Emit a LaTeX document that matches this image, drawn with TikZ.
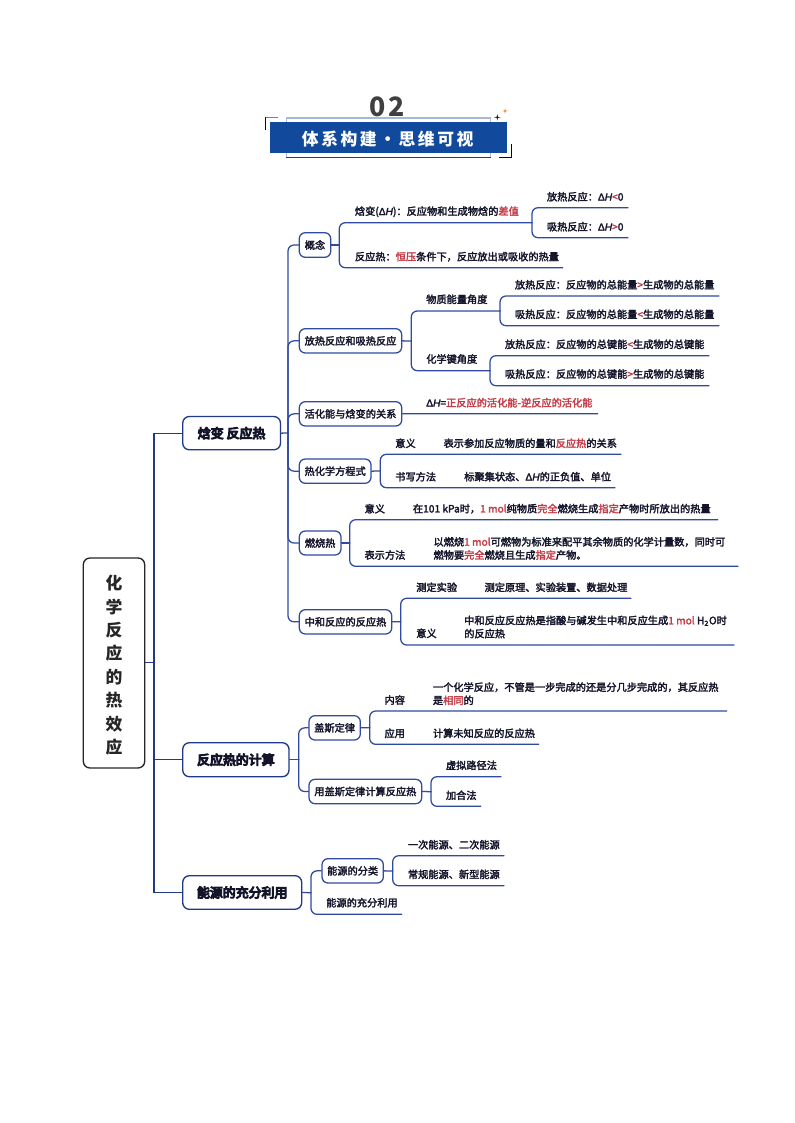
\documentclass[tikz,border=0pt]{standalone}
\usepackage{fontspec}
\setmainfont{Noto Sans CJK SC}
\newfontfamily\medf[FakeBold=2.5]{Noto Sans CJK SC}
\newfontfamily\bigf[FakeBold=8]{Noto Sans CJK SC}
\newfontfamily\latf[FakeBold=2.5]{Liberation Sans}
\usetikzlibrary{calc}
\definecolor{lnk}{HTML}{2F4A9E}
\definecolor{lnkd}{HTML}{1F3A8A}
\definecolor{ink}{HTML}{14142B}
\definecolor{hot}{HTML}{C43C48}
\definecolor{bar}{HTML}{114A9C}
\definecolor{pale}{HTML}{A8B8D8}
\newcommand{\hi}[1]{\textcolor{hot}{#1}}
\newcommand{\dH}{{\latf Δ\itshape H}}
\tikzset{
  x=0.75pt,y=-0.75pt,
  lnka/.style={draw=lnk,line width=0.95pt,line cap=round},
  arm/.style={lnka,rounded corners=4.5pt},
  spine/.style={draw=lnkd,line width=0.9pt},
  boxs/.style={draw=lnk,line width=0.95pt,fill=white,rounded corners=4.5pt,inner sep=0pt,font=\medf\fontsize{7.65}{9}\selectfont,text=ink,anchor=center},
  boxb/.style={draw=lnkd,line width=1pt,fill=white,rounded corners=5pt,inner sep=0pt,font=\bigf\fontsize{9.7}{12}\selectfont,text=ink,anchor=center},
  lab/.style={inner sep=0pt,anchor=west,font=\medf\fontsize{7.65}{9.9}\selectfont,text=ink,align=left},
}
\newcommand{\bx}[7][boxs]{\node[#1,minimum width={(#6-#4)*0.75pt},minimum height={(#7-#5)*0.75pt}] (#2) at ({(#4+#6)/2},{(#5+#7)/2}) {\raisebox{-0.9pt}{#3}};}
\begin{document}
\begin{tikzpicture}
\useasboundingbox (0,0) rectangle (794,1123);
\fill[white] (0,0) rectangle (794,1123);

% --- header ---
\node[inner sep=0pt,text=black!75,font=\fontsize{20}{24}\selectfont\bfseries] (num) at (387.5,106.7) {0\hspace{2pt}2};
\draw[draw=pale,line width=0.8pt,fill=white] (286.3,118) rectangle (490.7,157.3);
\draw[draw=bar!90!black,line width=0.8pt] (286.3,157.3) -- (490.7,157.3);
\draw[draw=black!60!blue,line width=0.7pt] (265.7,130) -- (265.7,117.3);
\draw[draw=pale!70!black,line width=0.7pt] (265.7,117.3) -- (277.7,117.3);
\draw[draw=black!70!blue,line width=0.7pt] (511.7,144.3) -- (511.7,157) -- (499.3,157);
\fill[bar] (270,122.3) rectangle (506.7,153.3);
\node[inner sep=0pt,text=white,font=\fontsize{12.6}{14}\selectfont\bfseries] (ttl) at (387.7,139.5) {体\hspace{1.9pt}系\hspace{1.9pt}构\hspace{1.9pt}建\hspace{1.9pt}·\hspace{1.9pt}思\hspace{1.9pt}维\hspace{1.9pt}可\hspace{1.9pt}视};
\fill[black!85] (497.3,114) -- (497.9,116.7) -- (500.6,117.3) -- (497.9,117.9) -- (497.3,120.6) -- (496.7,117.9) -- (494,117.3) -- (496.7,116.7) -- cycle;
\fill[orange!90!black] (505,108.5) -- (505.5,110.5) -- (507.5,111) -- (505.5,111.5) -- (505,113.5) -- (504.5,111.5) -- (502.5,111) -- (504.5,110.5) -- cycle;

% --- root and main branches ---
\node[draw=black!85,line width=1pt,rounded corners=5pt,fill=white,minimum width={61.4*0.75pt},minimum height={210*0.75pt},inner sep=0pt] (root) at (114,663) {};
\foreach \c [count=\i from 0] in {化,学,反,应,的,热,效,应}
  \node[inner sep=0pt,text=black!85,font=\fontsize{12.6}{14}\selectfont\bfseries] (r\i) at (114,{583.3+23.4*\i}) {\c};

\bx[boxb]{hb}{焓变 反应热}{182.7}{416.5}{280.5}{449.8}
\bx[boxb]{calc}{反应热的计算}{182.7}{742.7}{289}{776.7}
\bx[boxb]{src}{能源的充分利用}{182.7}{875.7}{301.7}{909.3}

\coordinate (j0) at (154,662.7);
\draw[spine] (root.east |- j0) -- (j0);
\draw[spine] (hb.west) -- (j0 |- hb.west) -- (j0 |- src.west) -- (src.west);
\draw[spine] (j0 |- calc.west) -- (calc.west);

% --- level 2 boxes under 焓变 ---
\bx{gn}{概念}{299.3}{232.7}{330.7}{257.3}
\bx{fr}{放热反应和吸热反应}{299.3}{328.7}{401.7}{353}
\bx{hh}{活化能与焓变的关系}{299.3}{401.7}{401.7}{426}
\bx{eq}{热化学方程式}{299.3}{459}{371}{483.3}
\bx{rs}{燃烧热}{299.3}{531}{341}{555}
\bx{zh}{中和反应的反应热}{299.3}{609.7}{391.7}{634}

\coordinate (j1) at (288,433);
\draw[lnka] (hb.east) -- (j1);
\draw[arm] (j1) |- (gn.west);
\draw[arm] (j1) |- (fr.west);
\draw[arm] (j1) |- (hh.west);
\draw[arm] (j1) |- (eq.west);
\draw[arm] (j1) |- (rs.west);
\draw[arm] (j1) |- (zh.west);

% 概念
\coordinate (j2) at (339.3,245);
\coordinate (a1) at (532,222.7);
\coordinate (a2) at (562.7,267.7);
\draw[lnka] (gn.east) -- (j2);
\draw[arm] (j2) |- (a1);
\draw[arm] (j2) |- (a2);
\coordinate (j3) at (532,222.7);
\coordinate (a3) at (628,207.7);
\coordinate (a4) at (628,237.7);
\draw[arm] (j3) |- (a3);
\draw[arm] (j3) |- (a4);
\node[lab] (t1) at (354.7,211.7) {焓变({\latf Δ}{\latf\itshape H})：反应物和生成物焓的\hi{差值}};
\node[lab] (t2) at (354.7,256.7) {反应热：\hi{恒压}条件下，反应放出或吸收的热量};
\node[lab] (t3) at (546.7,196.7) {放热反应：\dH\hi{<}0};
\node[lab] (t4) at (546.7,226.7) {吸热反应：\dH\hi{>}0};

% 放热反应和吸热反应
\coordinate (j4) at (411.3,341);
\coordinate (b1) at (500,311);
\coordinate (b2) at (490,370.7);
\draw[lnka] (fr.east) -- (j4);
\draw[arm] (j4) |- (b1);
\draw[arm] (j4) |- (b2);
\coordinate (b3) at (719,296);
\coordinate (b4) at (719,325.7);
\draw[arm] (b1) |- (b3);
\draw[arm] (b1) |- (b4);
\coordinate (b5) at (709,355.7);
\coordinate (b6) at (709,385.7);
\draw[arm] (b2) |- (b5);
\draw[arm] (b2) |- (b6);
\node[lab] (t5) at (426,299.3) {物质能量角度};
\node[lab] (t6) at (426,359) {化学键角度};
\node[lab] (t7) at (514.7,284.7) {放热反应：反应物的总能量\hi{>}生成物的总能量};
\node[lab] (t8) at (514.7,314.3) {吸热反应：反应物的总能量\hi{<}生成物的总能量};
\node[lab] (t9) at (504.7,344.3) {放热反应：反应物的总键能\hi{<}生成物的总键能};
\node[lab] (t10) at (504.7,374) {吸热反应：反应物的总键能\hi{>}生成物的总键能};

% 活化能
\coordinate (c1) at (597.7,413.7);
\draw[lnka] (hh.east) -- (c1);
\node[lab] (t11) at (426,402.7) {\dH=\hi{正反应的活化能-逆反应的活化能}};

% 热化学方程式
\coordinate (j5) at (380.3,471);
\coordinate (d1) at (621,454.3);
\coordinate (d2) at (615,487.7);
\draw[lnka] (eq.east) -- (j5);
\draw[arm] (j5) |- (d1);
\draw[arm] (j5) |- (d2);
\node[lab] (t12) at (395,443.3) {意义};
\node[lab] (t13) at (443.3,443.3) {表示参加反应物质的量和\hi{反应热}的关系};
\node[lab] (t14) at (395,476.7) {书写方法};
\node[lab] (t15) at (464,476.7) {标聚集状态、\dH{}的正负值、单位};

% 燃烧热
\coordinate (j6) at (349.7,543);
\coordinate (e1) at (717.7,519.7);
\coordinate (e2) at (738,566.3);
\draw[lnka] (rs.east) -- (j6);
\draw[arm] (j6) |- (e1);
\draw[arm] (j6) |- (e2);
\node[lab] (t16) at (364.3,508.7) {意义};
\node[lab] (t17) at (412.7,508.7) {在101 kPa时，\hi{1 mol}纯物质\hi{完全}燃烧生成\hi{指定}产物时所放出的热量};
\node[lab] (t18) at (364.3,555) {表示方法};
\node[lab] (t19) at (433.3,548.4) {以燃烧\hi{1 mol}可燃物为标准来配平其余物质的化学计量数，同时可\\燃物要\hi{完全}燃烧且生成\hi{指定}产物。};

% 中和反应的反应热
\coordinate (j7) at (400.7,621.8);
\coordinate (f1) at (631,598.3);
\coordinate (f2) at (734,645);
\draw[lnka] (zh.east) -- (j7);
\draw[arm] (j7) |- (f1);
\draw[arm] (j7) |- (f2);
\node[lab] (t20) at (416,587.3) {测定实验};
\node[lab] (t21) at (484.3,587.3) {测定原理、实验装置、数据处理};
\node[lab] (t22) at (416,633.3) {意义};
\node[lab] (t23) at (464,627) {中和反应反应热是指酸与碱发生中和反应生成\hi{1 mol} H\textsubscript{2}O时\\的反应热};

% 反应热的计算
\bx{gs}{盖斯定律}{309}{715.7}{360.3}{740}
\bx{yg}{用盖斯定律计算反应热}{309}{779.3}{421.7}{803.7}
\coordinate (j8) at (298.7,759.7);
\draw[lnka] (calc.east) -- (j8);
\draw[arm] (j8) |- (gs.west);
\draw[arm] (j8) |- (yg.west);
\coordinate (j9) at (369.7,727.8);
\coordinate (g1) at (726.7,711);
\coordinate (g2) at (538.7,744.3);
\draw[lnka] (gs.east) -- (j9);
\draw[arm] (j9) |- (g1);
\draw[arm] (j9) |- (g2);
\node[lab] (t24) at (384.3,700) {内容};
\node[lab] (t25) at (432.7,693.7) {一个化学反应，不管是一步完成的还是分几步完成的，其反应热\\是\hi{相同}的};
\node[lab] (t26) at (384.3,733.3) {应用};
\node[lab] (t27) at (432.7,733.3) {计算未知反应的反应热};
\coordinate (j10) at (431,791.7);
\coordinate (h1) at (501,776.7);
\coordinate (h2) at (480.7,806.3);
\draw[lnka] (yg.east) -- (j10);
\draw[arm] (j10) |- (h1);
\draw[arm] (j10) |- (h2);
\node[lab] (t28) at (445.7,765.3) {虚拟路径法};
\node[lab] (t29) at (445.7,795.3) {加合法};

% 能源的充分利用
\bx{fl}{能源的分类}{322}{858.7}{383.3}{883}
\coordinate (j11) at (311,892.7);
\coordinate (i1) at (401.7,914.3);
\draw[lnka] (src.east) -- (j11);
\draw[arm] (j11) |- (fl.west);
\draw[arm] (j11) |- (i1);
\node[lab] (t30) at (326,902.7) {能源的充分利用};
\coordinate (j12) at (392.7,871);
\coordinate (i2) at (504,855.7);
\coordinate (i3) at (504,885.7);
\draw[lnka] (fl.east) -- (j12);
\draw[arm] (j12) |- (i2);
\draw[arm] (j12) |- (i3);
\node[lab] (t31) at (407.7,844.7) {一次能源、二次能源};
\node[lab] (t32) at (407.7,874.3) {常规能源、新型能源};
\end{tikzpicture}
\end{document}
